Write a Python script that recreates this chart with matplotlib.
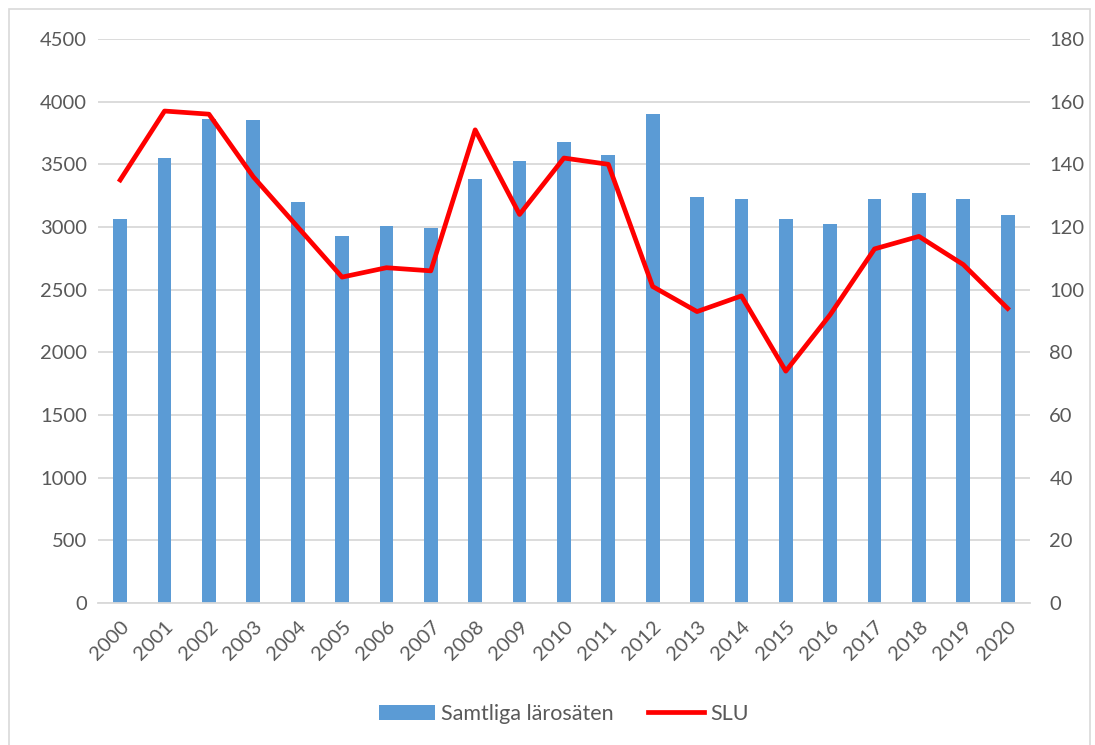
import matplotlib.pyplot as plt
import numpy as np
from matplotlib.patches import Rectangle

plt.rcParams['font.family'] = ['Lato', 'DejaVu Sans']

years = [str(y) for y in range(2000, 2021)]
samtliga = [3060, 3550, 3860, 3850, 3200, 2930, 3005, 2995, 3380, 3525, 3680,
            3575, 3905, 3240, 3220, 3060, 3020, 3220, 3270, 3220, 3095]
slu = [135, 157, 156, 136, 120, 104, 107, 106, 151, 124, 142,
       140, 101, 93, 98, 74, 92, 113, 117, 108, 94]

grey = '#595959'

fig = plt.figure(figsize=(10.95, 7.45), dpi=100)
ax = fig.add_axes([0.0895, 0.1906, 0.851, 0.7571])
x = np.arange(len(years))

b = ax.bar(x, samtliga, width=0.31, color='#5B9BD5', label='Samtliga lärosäten', zorder=2)
ax.set_ylim(0, 4500)
ax.set_yticks(range(0, 4501, 500))
ax.set_xlim(-0.5, len(years) - 0.5)
ax.set_xticks(x)
ax.set_xticklabels(years, rotation=45, ha='right', rotation_mode='anchor')
ax.yaxis.grid(True, color='#D9D9D9', linewidth=1.3, zorder=0)
ax.set_axisbelow(True)
for s in ['top', 'right', 'left']:
    ax.spines[s].set_visible(False)
ax.spines['bottom'].set_color('#D9D9D9')
ax.spines['bottom'].set_linewidth(1.3)
ax.tick_params(length=0, labelsize=14.5, colors=grey, pad=8)
ax.tick_params(axis='x', pad=11)

ax2 = ax.twinx()
l, = ax2.plot(x, slu, color='#FF0000', linewidth=3.4, label='SLU', zorder=3,
              solid_joinstyle='round')
ax2.set_ylim(0, 180)
ax2.set_yticks(range(0, 181, 20))
for s in ax2.spines.values():
    s.set_visible(False)
ax2.tick_params(length=0, labelsize=14.5, colors=grey, pad=14)

fig.legend([b, l], ['Samtliga lärosäten', 'SLU'], loc='center', bbox_to_anchor=(0.515, 0.042),
           ncol=2, frameon=False, fontsize=15.5, labelcolor=grey, handlelength=2.6,
           columnspacing=1.6, handletextpad=0.3)

fig.patches.append(Rectangle((0.008, -0.01), 0.987, 0.998, transform=fig.transFigure,
                             fill=False, edgecolor='#D9D9D9', linewidth=1.2))

fig.savefig('out.png', dpi=100)
